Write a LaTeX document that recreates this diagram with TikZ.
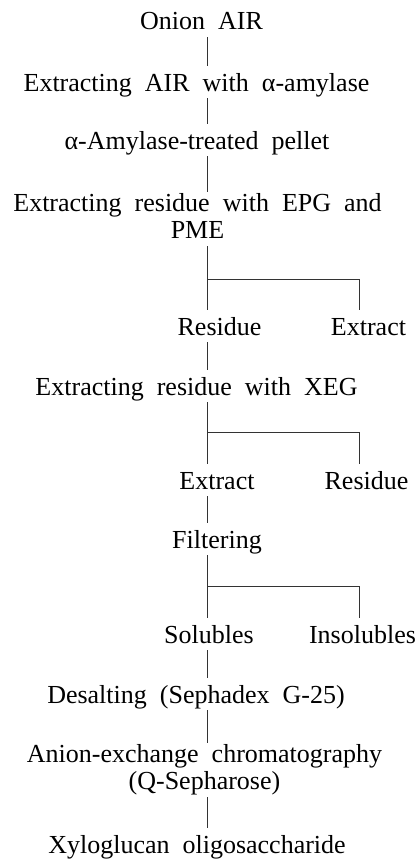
\documentclass[tikz,border=0pt]{standalone}
\usepackage{fontspec}
\setmainfont[WordSpace=2]{Liberation Serif}
\begin{document}
\begin{tikzpicture}[x=1pt,y=-1pt,
    stepnode/.style={anchor=base,inner sep=1pt,text height=24pt,text depth=6pt,
      font=\fontsize{26}{28}\selectfont},
    twoline/.style={anchor=base,inner sep=1pt,align=center,text depth=7pt,
      font=\fontsize{26}{27}\selectfont},
    flow/.style={black!80,line width=0.8pt}]

    % Define the main and the side spine
    \def\xmain{207}
    \def\xside{359}
    \useasboundingbox (0,0) rectangle (418,859);
    \coordinate (spine) at (\xmain,0);
    \coordinate (side) at (\xside,0);

    % Draw the steps
    \node[stepnode] (onion) at (201.5,30) {Onion AIR};
    \node[stepnode] (amylase) at (196.5,91) {Extracting AIR with α-amylase};
    \node[stepnode] (pellet) at (197,149) {α-Amylase-treated pellet};
    \node[twoline] (epg) at (197.5,238) {Extracting residue with EPG and\\PME};
    \node[stepnode] (residueA) at (219.5,335) {Residue};
    \node[stepnode] (extractA) at (368.5,335) {Extract};
    \node[stepnode] (xeg) at (196.5,395) {Extracting residue with XEG};
    \node[stepnode] (extractB) at (217,489) {Extract};
    \node[stepnode] (residueB) at (366.5,489) {Residue};
    \node[stepnode] (filter) at (217,548) {Filtering};
    \node[stepnode] (soluble) at (209,643) {Solubles};
    \node[stepnode] (insoluble) at (362.5,643) {Insolubles};
    \node[stepnode] (desalt) at (196,703) {Desalting (Sephadex G-25)};
    \node[twoline] (anion) at (204.5,789) {Anion-exchange chromatography\\(Q-Sepharose)};
    \node[stepnode] (xylo) at (197,853) {Xyloglucan oligosaccharide};

    % Draw the main line
    \draw[flow] (onion.south -| spine) -- (amylase.north -| spine);
    \draw[flow] (amylase.south -| spine) -- (pellet.north -| spine);
    \draw[flow] (pellet.south -| spine) -- (epg.north -| spine);
    \draw[flow] (epg.south -| spine) -- (residueA.north -| spine);
    \draw[flow] (residueA.south -| spine) -- (xeg.north -| spine);
    \draw[flow] (xeg.south -| spine) -- (extractB.north -| spine);
    \draw[flow] (extractB.south -| spine) -- (filter.north -| spine);
    \draw[flow] (filter.south -| spine) -- (soluble.north -| spine);
    \draw[flow] (soluble.south -| spine) -- (desalt.north -| spine);
    \draw[flow] (desalt.south -| spine) -- (anion.north -| spine);
    \draw[flow] (anion.south -| spine) -- (xylo.north -| spine);

    % Draw the side branches
    \coordinate (splitA) at (\xmain,279);
    \coordinate (splitB) at (\xmain,432);
    \coordinate (splitC) at (\xmain,586);
    \draw[flow] (splitA) -| (extractA.north -| side);
    \draw[flow] (splitB) -| (residueB.north -| side);
    \draw[flow] (splitC) -| (insoluble.north -| side);

\end{tikzpicture}
\end{document}
